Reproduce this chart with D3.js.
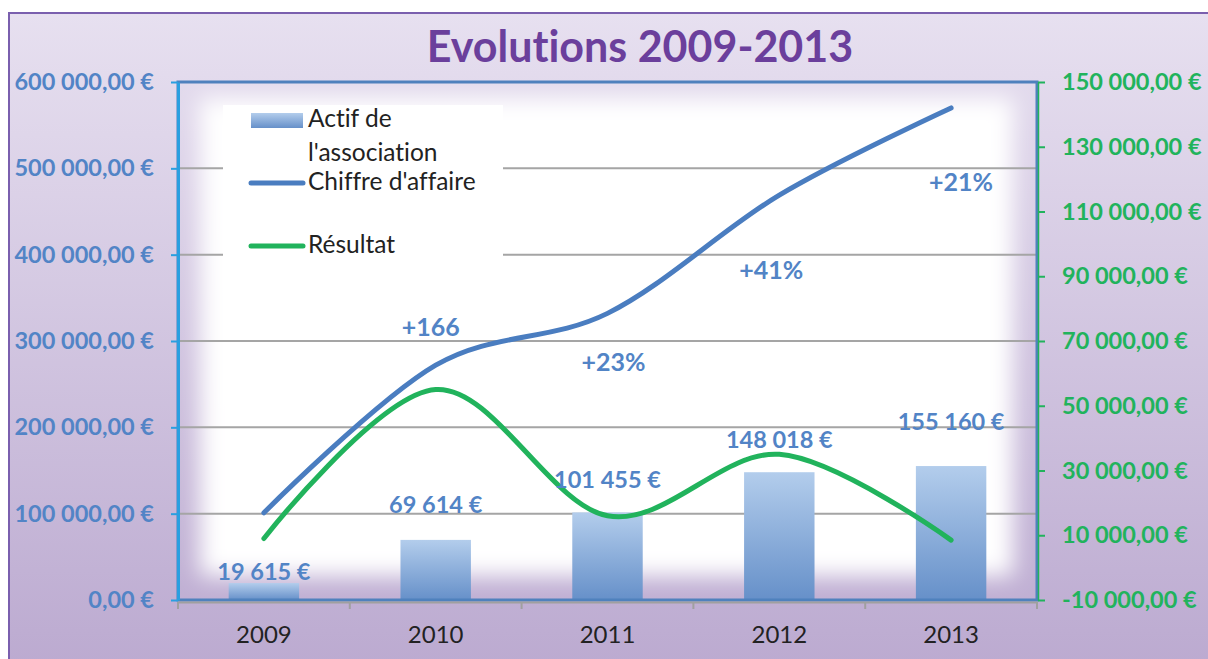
<!DOCTYPE html>
<html>
<head>
<meta charset="utf-8">
<script src="https://cdn.jsdelivr.net/npm/d3@7"></script>
<style>
  body { margin: 0; background: #fff; }
  svg { display: block; font-family: Lato, "Open Sans", sans-serif; font-variant-ligatures: none; }
</style>
</head>
<body>
<div id="wrapper"></div>
<script>
// Data
const years = ["2009", "2010", "2011", "2012", "2013"]
const actif = [19615, 69614, 101455, 148018, 155160]
const chiffre = [101000, 272000, 332000, 469000, 570000]
const resultat = [9000, 55000, 16000, 35000, 8500]
const growthLabels = ["", "+166", "+23%", "+41%", "+21%"]
const leftTicks = [0, 100000, 200000, 300000, 400000, 500000, 600000]
const rightTicks = [-10000, 10000, 30000, 50000, 70000, 90000, 110000, 130000, 150000]

// layout tweaks for the hand placed labels
const barLabelGap = [3, 27, 24, 24, 36]
const growthOffset = [[0, 0], [-5, -29], [6, 58], [-8, 84], [10, 83]]

function drawChart() {

  // 2. Create chart dimensions
  let dimensions = {
    width: 1208,
    height: 659,
    margin: {
      top: 82,
      right: 171,
      bottom: 59,
      left: 178,
    },
  }
  dimensions.boundedWidth = dimensions.width
    - dimensions.margin.left
    - dimensions.margin.right
  dimensions.boundedHeight = dimensions.height
    - dimensions.margin.top
    - dimensions.margin.bottom

  const blue = "#4a7dc0"
  const labelBlue = "#5284c6"
  const green = "#21b35c"

  // 3. Draw canvas
  const wrapper = d3.select("#wrapper")
    .append("svg")
      .attr("width", dimensions.width)
      .attr("height", dimensions.height)

  const defs = wrapper.append("defs")

  const bg = defs.append("linearGradient")
      .attr("id", "bg")
      .attr("x1", 0).attr("y1", 0).attr("x2", 0).attr("y2", 1)
  bg.append("stop").attr("offset", "0%").attr("stop-color", "#e7e0f0")
  bg.append("stop").attr("offset", "100%").attr("stop-color", "#baa8cf")

  const barGrad = defs.append("linearGradient")
      .attr("id", "barGrad")
      .attr("x1", 0).attr("y1", 0).attr("x2", 0).attr("y2", 1)
  barGrad.append("stop").attr("offset", "0%").attr("stop-color", "#b3cdec")
  barGrad.append("stop").attr("offset", "100%").attr("stop-color", "#6690c9")

  const soft = defs.append("filter")
      .attr("id", "soft")
      .attr("x", "-20%").attr("y", "-20%")
      .attr("width", "140%").attr("height", "140%")
  soft.append("feGaussianBlur").attr("stdDeviation", 11)

  defs.append("clipPath")
      .attr("id", "plotClip")
    .append("rect")
      .attr("width", dimensions.boundedWidth)
      .attr("height", dimensions.boundedHeight)

  // outer frame
  wrapper.append("rect")
      .attr("x", 9)
      .attr("y", 13)
      .attr("width", dimensions.width + 20)
      .attr("height", dimensions.height + 20)
      .attr("fill", "url(#bg)")
      .attr("stroke", "#7a5fae")
      .attr("stroke-width", 2)

  wrapper.append("text")
      .attr("x", 640)
      .attr("y", 62)
      .attr("text-anchor", "middle")
      .attr("fill", "#6b3f9c")
      .style("font-size", "43px")
      .style("font-weight", "bold")
      .text("Evolutions 2009-2013")

  const bounds = wrapper.append("g")
    .style("transform", `translate(${
      dimensions.margin.left
    }px, ${
      dimensions.margin.top
    }px)`)

  // soft edged plot area
  bounds.append("g")
      .attr("clip-path", "url(#plotClip)")
    .append("rect")
      .attr("x", 22)
      .attr("y", 16)
      .attr("width", dimensions.boundedWidth - 46)
      .attr("height", dimensions.boundedHeight - 40)
      .attr("fill", "#fff")
      .attr("filter", "url(#soft)")

  // 4. Create scales
  const xScale = d3.scaleBand()
    .domain(years)
    .range([0, dimensions.boundedWidth])

  const barScale = d3.scaleBand()
    .domain(years)
    .range([0, dimensions.boundedWidth])
    .paddingInner(0.59)
    .paddingOuter(0.295)

  const yLeft = d3.scaleLinear()
    .domain([0, 600000])
    .range([dimensions.boundedHeight, 0])

  const yRight = d3.scaleLinear()
    .domain([-10000, 150000])
    .range([dimensions.boundedHeight, 0])

  const fr = d3.formatLocale({
    decimal: ",",
    thousands: " ",
    grouping: [3],
    currency: ["", " €"],
    minus: "-",
  })
  const euro = fr.format("$,.2f")
  const euroInt = fr.format("$,.0f")

  // gridlines
  bounds.append("g")
    .selectAll("line")
    .data(leftTicks.slice(1, -1))
    .enter().append("line")
      .attr("x1", 0)
      .attr("x2", dimensions.boundedWidth)
      .attr("y1", d => yLeft(d))
      .attr("y2", d => yLeft(d))
      .attr("stroke", "#a5a5a5")
      .attr("stroke-width", 2)

  // 5. Draw data
  const xCenter = d => xScale(d) + xScale.bandwidth() / 2

  bounds.append("g")
    .selectAll("rect")
    .data(years)
    .enter().append("rect")
      .attr("x", d => barScale(d))
      .attr("y", (d, i) => yLeft(actif[i]))
      .attr("width", barScale.bandwidth())
      .attr("height", (d, i) => yLeft(0) - yLeft(actif[i]))
      .attr("fill", "url(#barGrad)")

  const lineLeft = d3.line()
    .x((d, i) => xCenter(years[i]))
    .y(d => yLeft(d))
    .curve(d3.curveCatmullRom.alpha(0))

  const lineRight = d3.line()
    .x((d, i) => xCenter(years[i]))
    .y(d => yRight(d))
    .curve(d3.curveCatmullRom.alpha(0))

  bounds.append("path")
      .attr("d", lineRight(resultat))
      .attr("fill", "none")
      .attr("stroke", green)
      .attr("stroke-width", 5)
      .attr("stroke-linecap", "round")

  bounds.append("path")
      .attr("d", lineLeft(chiffre))
      .attr("fill", "none")
      .attr("stroke", blue)
      .attr("stroke-width", 5)
      .attr("stroke-linecap", "round")

  // bar labels
  bounds.append("g")
    .selectAll("text")
    .data(years)
    .enter().append("text")
      .attr("x", d => xCenter(d))
      .attr("y", (d, i) => yLeft(actif[i]) - barLabelGap[i])
      .attr("text-anchor", "middle")
      .attr("fill", labelBlue)
      .style("font-size", "23.5px")
      .style("font-weight", "bold")
      .text((d, i) => euroInt(actif[i]))

  // growth labels
  bounds.append("g")
    .selectAll("text")
    .data(years.filter((d, i) => growthLabels[i]))
    .enter().append("text")
      .attr("x", d => xCenter(d) + growthOffset[years.indexOf(d)][0])
      .attr("y", d => yLeft(chiffre[years.indexOf(d)]) + growthOffset[years.indexOf(d)][1])
      .attr("text-anchor", "middle")
      .attr("fill", labelBlue)
      .style("font-size", "25px")
      .style("font-weight", "bold")
      .text(d => growthLabels[years.indexOf(d)])

  // 6. Draw peripherals
  // plot border
  bounds.append("rect")
      .attr("width", dimensions.boundedWidth)
      .attr("height", dimensions.boundedHeight)
      .attr("fill", "none")
      .attr("stroke", "#4f81bd")
      .attr("stroke-width", 3)

  const xAxis = bounds.append("g")
    .style("transform", `translateY(${dimensions.boundedHeight + 2}px)`)
    .call(d3.axisBottom(xScale).tickSize(0).tickPadding(24))
  xAxis.select(".domain")
      .attr("stroke", "#a0a0a0")
      .attr("stroke-width", 2)
  xAxis.selectAll("text")
      .attr("fill", "#222")
      .style("font-size", "24px")
      .style("font-family", "Lato, sans-serif")
  xAxis.selectAll(".sep")
    .data(years.concat(["end"]))
    .enter().append("line")
      .attr("class", "sep")
      .attr("x1", d => d == "end" ? dimensions.boundedWidth : xScale(d))
      .attr("x2", d => d == "end" ? dimensions.boundedWidth : xScale(d))
      .attr("y1", 0)
      .attr("y2", 7)
      .attr("stroke", "#a0a0a0")
      .attr("stroke-width", 2)

  const yAxis = bounds.append("g")
    .call(d3.axisLeft(yLeft)
      .tickValues(leftTicks)
      .tickSize(7)
      .tickSizeOuter(0)
      .tickPadding(17)
      .tickFormat(euro))
  yAxis.select(".domain")
      .attr("stroke", "#2a9fe0")
      .attr("stroke-width", 3)
  yAxis.selectAll(".tick line")
      .attr("stroke", "#2a9fe0")
      .attr("stroke-width", 2)
  yAxis.selectAll("text")
      .attr("fill", labelBlue)
      .style("font-size", "23.5px")
      .style("font-weight", "bold")
      .style("font-family", "Lato, sans-serif")

  const yAxisRight = bounds.append("g")
    .style("transform", `translateX(${dimensions.boundedWidth + 1}px)`)
    .call(d3.axisRight(yRight)
      .tickValues(rightTicks)
      .tickSize(7)
      .tickSizeOuter(0)
      .tickPadding(17)
      .tickFormat(euro))
  yAxisRight.select(".domain")
      .attr("stroke", green)
      .attr("stroke-width", 1.5)
  yAxisRight.selectAll(".tick line")
      .attr("stroke", green)
      .attr("stroke-width", 2)
  yAxisRight.selectAll("text")
      .attr("fill", green)
      .style("font-size", "23.5px")
      .style("font-weight", "bold")
      .style("font-family", "Lato, sans-serif")

  // legend
  const legend = wrapper.append("g")
  legend.append("rect")
      .attr("x", 223)
      .attr("y", 105)
      .attr("width", 280)
      .attr("height", 157)
      .attr("fill", "#fff")
  legend.append("rect")
      .attr("x", 251)
      .attr("y", 113)
      .attr("width", 52)
      .attr("height", 15)
      .attr("fill", "url(#barGrad)")
  const legendLines = [
    {color: blue, y: 183},
    {color: green, y: 246},
  ]
  legend.selectAll(".swatch")
    .data(legendLines)
    .enter().append("line")
      .attr("class", "swatch")
      .attr("x1", 251)
      .attr("x2", 303)
      .attr("y1", d => d.y)
      .attr("y2", d => d.y)
      .attr("stroke", d => d.color)
      .attr("stroke-width", 5)
      .attr("stroke-linecap", "round")
  const legendText = [
    {t: "Actif de", y: 127},
    {t: "l'association", y: 161},
    {t: "Chiffre d'affaire", y: 190},
    {t: "Résultat", y: 253},
  ]
  legend.selectAll(".lt")
    .data(legendText)
    .enter().append("text")
      .attr("class", "lt")
      .attr("x", 308)
      .attr("y", d => d.y)
      .attr("fill", "#222")
      .style("font-size", "24.5px")
      .text(d => d.t)
}

drawChart()
</script>
</body>
</html>
